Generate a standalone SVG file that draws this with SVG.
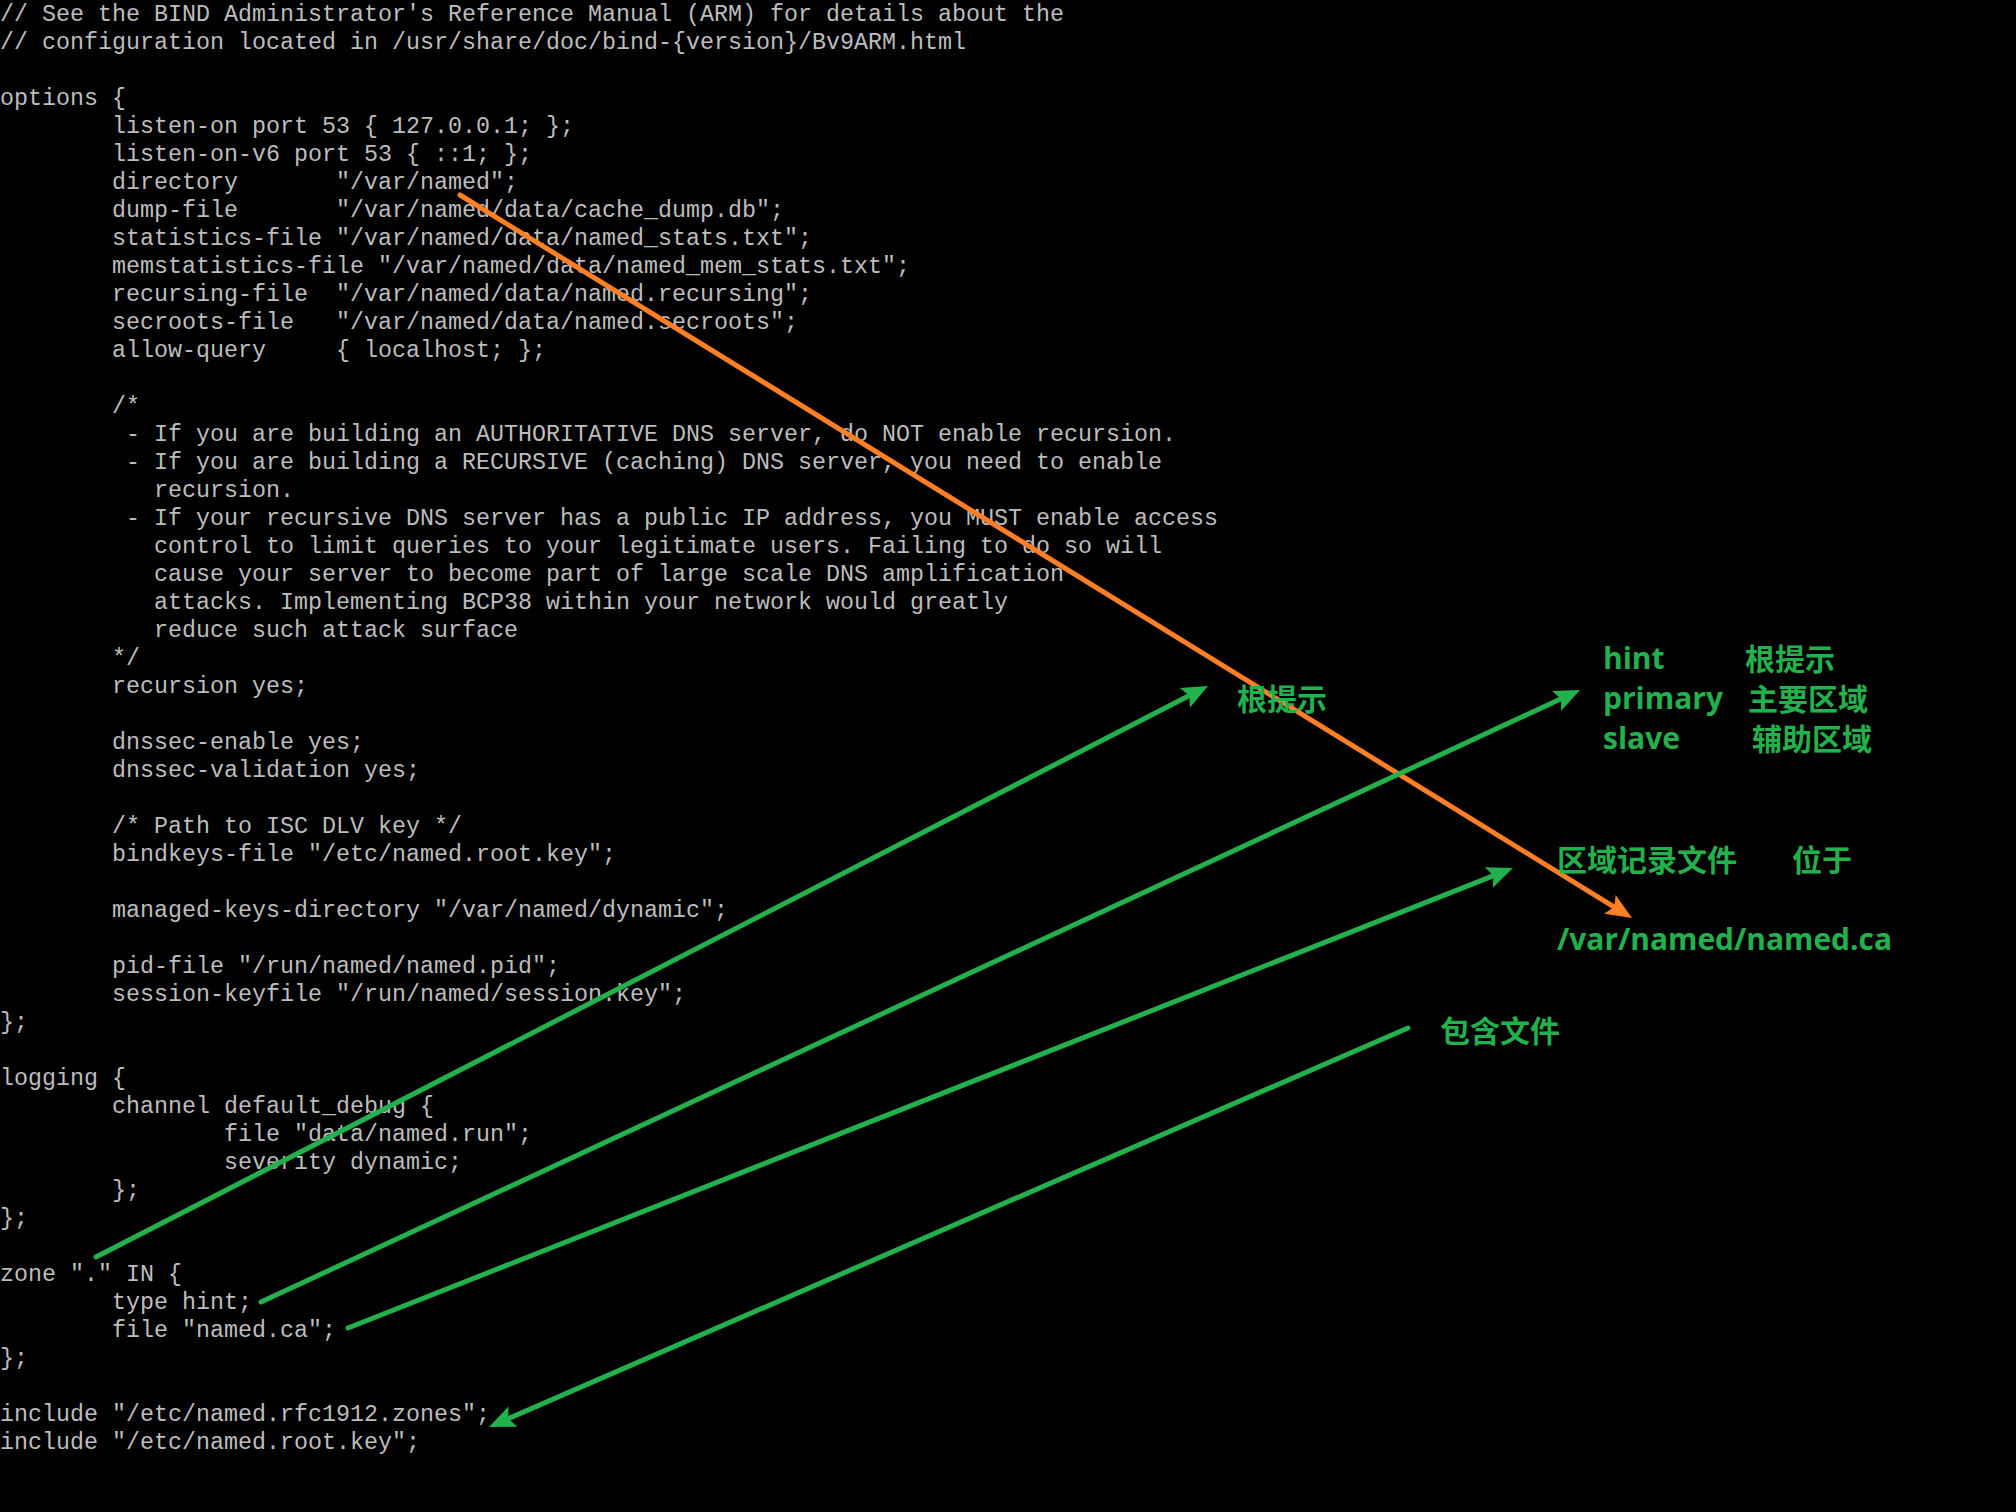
<svg xmlns="http://www.w3.org/2000/svg" width="2016" height="1512" viewBox="0 0 2016 1512">
<style>
.code { font-family: "Liberation Mono", "DejaVu Sans Mono", monospace; font-size: 23.33px; fill: #bdbdbd; }
.lbl { font-family: "Noto Sans CJK SC", "Noto Sans", sans-serif; font-weight: bold; font-size: 30px; fill: #22b14c; }
.lat { font-family: "Open Sans", "Noto Sans", "Noto Sans CJK SC", sans-serif; font-weight: bold; font-size: 30px; fill: #22b14c; }
.g { stroke: #22b14c; stroke-width: 5; fill: none; stroke-linecap: round; marker-end: url(#ag); }
.o { stroke: #ff7f27; stroke-width: 5; fill: none; stroke-linecap: round; marker-end: url(#ao); }
</style>
<defs>
<marker id="ag" markerUnits="userSpaceOnUse" markerWidth="26" markerHeight="22" viewBox="0 0 26 22" refX="10" refY="11" orient="auto">
<path d="M0,0 L26,11 L0,22 L5,11 z" fill="#22b14c"/>
</marker>
<marker id="ao" markerUnits="userSpaceOnUse" markerWidth="26" markerHeight="22" viewBox="0 0 26 22" refX="10" refY="11" orient="auto">
<path d="M0,0 L26,11 L0,22 L5,11 z" fill="#ff7f27"/>
</marker>
</defs>
<rect x="0" y="0" width="2016" height="1512" fill="#000000"/>
<g id="config-text" class="code">
<text x="0" y="21">// See the BIND Administrator's Reference Manual (ARM) for details about the</text>
<text x="0" y="49">// configuration located in /usr/share/doc/bind-{version}/Bv9ARM.html</text>
<text x="0" y="105">options {</text>
<text x="112" y="133">listen-on port 53 { 127.0.0.1; };</text>
<text x="112" y="161">listen-on-v6 port 53 { ::1; };</text>
<text x="112" y="189">directory&#160;&#160;&#160;&#160;&#160;&#160;&#160;"/var/named";</text>
<text x="112" y="217">dump-file&#160;&#160;&#160;&#160;&#160;&#160;&#160;"/var/named/data/cache_dump.db";</text>
<text x="112" y="245">statistics-file "/var/named/data/named_stats.txt";</text>
<text x="112" y="273">memstatistics-file "/var/named/data/named_mem_stats.txt";</text>
<text x="112" y="301">recursing-file&#160;&#160;"/var/named/data/named.recursing";</text>
<text x="112" y="329">secroots-file&#160;&#160;&#160;"/var/named/data/named.secroots";</text>
<text x="112" y="357">allow-query&#160;&#160;&#160;&#160;&#160;{ localhost; };</text>
<text x="112" y="413">/*</text>
<text x="126" y="441">- If you are building an AUTHORITATIVE DNS server, do NOT enable recursion.</text>
<text x="126" y="469">- If you are building a RECURSIVE (caching) DNS server, you need to enable</text>
<text x="154" y="497">recursion.</text>
<text x="126" y="525">- If your recursive DNS server has a public IP address, you MUST enable access</text>
<text x="154" y="553">control to limit queries to your legitimate users. Failing to do so will</text>
<text x="154" y="581">cause your server to become part of large scale DNS amplification</text>
<text x="154" y="609">attacks. Implementing BCP38 within your network would greatly</text>
<text x="154" y="637">reduce such attack surface</text>
<text x="112" y="665">*/</text>
<text x="112" y="693">recursion yes;</text>
<text x="112" y="749">dnssec-enable yes;</text>
<text x="112" y="777">dnssec-validation yes;</text>
<text x="112" y="833">/* Path to ISC DLV key */</text>
<text x="112" y="861">bindkeys-file "/etc/named.root.key";</text>
<text x="112" y="917">managed-keys-directory "/var/named/dynamic";</text>
<text x="112" y="973">pid-file "/run/named/named.pid";</text>
<text x="112" y="1001">session-keyfile "/run/named/session.key";</text>
<text x="0" y="1029">};</text>
<text x="0" y="1085">logging {</text>
<text x="112" y="1113">channel default_debug {</text>
<text x="224" y="1141">file "data/named.run";</text>
<text x="224" y="1169">severity dynamic;</text>
<text x="112" y="1197">};</text>
<text x="0" y="1225">};</text>
<text x="0" y="1281">zone "." IN {</text>
<text x="112" y="1309">type hint;</text>
<text x="112" y="1337">file "named.ca";</text>
<text x="0" y="1365">};</text>
<text x="0" y="1421">include "/etc/named.rfc1912.zones";</text>
<text x="0" y="1449">include "/etc/named.root.key";</text>
</g>
<g id="connectors">
<line class="o" x1="460" y1="195" x2="1618.4" y2="909.6"/>
<line class="g" x1="96" y1="1257" x2="1193.8" y2="693.3"/>
<line class="g" x1="261" y1="1302" x2="1565.5" y2="696.7"/>
<line class="g" x1="348" y1="1328" x2="1498.1" y2="873.9"/>
<line class="g" x1="1408" y1="1028" x2="503.7" y2="1420.6"/>
</g>
<g id="label-root-hint">
<text class="lbl" x="1237" y="710">根提示</text>
</g>
<g id="label-zone-types">
<text class="lat" x="1603" y="669">hint</text>
<text class="lbl" x="1745" y="670">根提示</text>
<text class="lat" x="1603" y="709">primary</text>
<text class="lbl" x="1748" y="710">主要区域</text>
<text class="lat" x="1603" y="749">slave</text>
<text class="lbl" x="1752" y="750">辅助区域</text>
</g>
<g id="label-zone-file">
<text class="lbl" x="1557" y="871">区域记录文件</text>
<text class="lbl" x="1792" y="871">位于</text>
</g>
<g id="label-path">
<text class="lat" x="1557" y="950" textLength="335" lengthAdjust="spacingAndGlyphs">/var/named/named.ca</text>
</g>
<g id="label-include">
<text class="lbl" x="1440" y="1042">包含文件</text>
</g>
</svg>
